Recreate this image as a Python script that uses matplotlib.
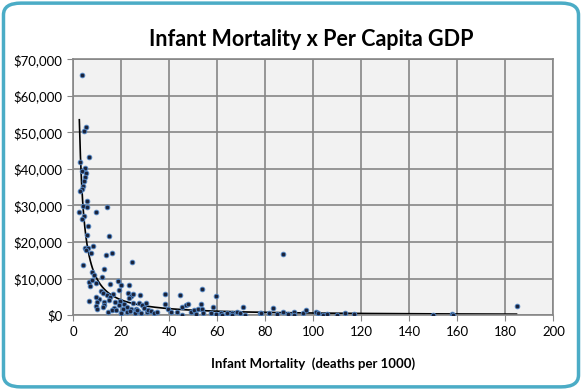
import numpy as np
import matplotlib
matplotlib.use("Agg")
import matplotlib.pyplot as plt
from matplotlib.patches import FancyBboxPatch
from matplotlib.ticker import FuncFormatter

plt.rcParams['font.family'] = ['Lato', 'DejaVu Sans']

# infant mortality (deaths per 1000) and per capita GDP
mortality = [
    3.8, 5.4, 4.5, 6.7, 2.9, 5.0, 3.6, 5.2, 4.7, 4.5, 4.2, 3.6, 2.9, 5.8,
    4.2, 5.8, 13.9, 9.6, 2.5, 4.6, 3.5, 6.0, 5.6, 15.0,
    4.9, 6.3, 8.1, 7.3, 5.3, 13.5, 16.3, 24.6, 4.2,
    7.9, 8.5, 12.9, 12.1, 6.5, 7.8, 9.5, 7.0, 15.2, 18.5, 19.8, 23.3,
    11.5, 12.4, 14.0, 16.7, 15.4, 19.2, 22.8, 24.0, 25.0, 27.8, 23.1, 10.6,
    6.5, 9.7, 12.7, 14.9, 17.2, 19.5, 21.0, 12.9, 9.6, 18.9, 24.9, 27.5,
    28.6, 22.3, 17.0, 14.3, 9.7, 15.9, 17.8, 20.8, 19.8, 24.0, 26.1, 27.1,
    29.5, 30.8, 22.5, 25.7, 28.1, 9.6, 12.5, 20.0, 23.6, 26.7,
    30.2, 31.0, 32.3, 33.7, 35.0, 38.3, 38.3, 39.3, 40.7, 43.2, 44.3, 45.4,
    45.4, 47.0, 47.6, 49.1, 50.4, 51.1, 52.1, 53.2, 53.8, 53.8, 54.2, 57.4,
    58.3, 59.5, 59.5, 61.5, 61.8, 63.9, 66.0, 66.0, 68.1, 69.5, 70.8, 71.5,
    77.8, 78.1, 81.5, 83.3, 84.7, 87.5, 87.5, 89.6, 92.0, 92.0, 95.8, 96.8,
    101.0, 102.1, 103.9, 105.8, 110.0, 113.2, 117.1, 150.0, 157.8, 158.3, 184.6,
]
gdp = [
    65600, 51400, 50500, 43300, 41800, 40200, 39500, 38800, 37700, 36700, 35400, 34500, 34000, 31200,
    29900, 29500, 29500, 28300, 28100, 27100, 26200, 24300, 21900, 21700,
    18300, 18500, 18800, 17100, 17700, 16400, 17100, 14600, 13600,
    11800, 11000, 12700, 10400, 9100, 9700, 8700, 8100, 8500, 9200, 8200, 8200,
    6700, 6000, 5500, 5700, 4900, 6900, 6000, 5300, 5700, 5500, 4800, 4500,
    3800, 3600, 3600, 4100, 3700, 3900, 3100, 2700, 2400, 2700, 3400, 3300,
    2700, 2300, 1900, 900, 1600, 1400, 1400, 1600, 700, 1600, 1700, 1100,
    1900, 950, 900, 700, 500, 4900, 2100, 600, 1100, 1500,
    3300, 1400, 1100, 700, 950, 5800, 3000, 1600, 950, 900, 5400, 2200,
    100, 2900, 3100, 900, 1400, 300, 1700, 3000, 7100, 1700, 700, 500,
    2200, 5300, 300, 700, 100, 500, 700, 100, 950, 700, 2200, 150,
    500, 700, 700, 1900, 300, 950, 16800, 300, 950, 100, 700, 1300,
    900, 700, 100, 300, 150, 700, 300, 100, 300, 150, 2400,
]

# power trendline y = a * x^b (as shown on the chart)
trend_a = 165000
trend_b = -1.23

fig = plt.figure(figsize=(5.82, 3.90), dpi=100)
fig.patch.set_facecolor('white')

# rounded teal frame around the chart
frame = FancyBboxPatch((0.006, 0.008), 0.988, 0.984,
                       boxstyle="round,pad=0,rounding_size=0.03",
                       transform=fig.transFigure, facecolor='none',
                       edgecolor='#4BACC6', linewidth=2.5)
fig.patches.append(frame)

ax = fig.add_axes([0.126, 0.192, 0.825, 0.656])
ax.set_facecolor('#F2F2F2')

tx = np.linspace(min(mortality), max(mortality), 400)
ax.plot(tx, trend_a * tx ** trend_b, color='black', linewidth=1.2, zorder=2)
ax.scatter(mortality, gdp, s=11, color='#1A2238', edgecolors='#4F81BD',
           linewidths=0.7, zorder=3)

ax.set_xlim(0, 200)
ax.set_ylim(0, 70000)
ax.set_xticks(np.arange(0, 201, 20))
ax.set_yticks(np.arange(0, 70001, 10000))
ax.yaxis.set_major_formatter(FuncFormatter(lambda v, p: '${:,.0f}'.format(v)))
ax.grid(True, color='#878787', linewidth=1.2)
ax.set_axisbelow(True)
for s in ax.spines.values():
    s.set_color('#878787')
    s.set_linewidth(1.2)
ax.tick_params(direction='out', length=4, color='#878787', labelsize=9.5,
               labelcolor='black', pad=4)

fig.text(0.535, 0.9, 'Infant Mortality x Per Capita GDP', ha='center', va='center',
         fontsize=15.5, fontweight='bold')
ax.set_xlabel('Infant Mortality  (deaths per 1000)', fontsize=9.5, fontweight='bold',
              labelpad=14)

fig.savefig('out.png', dpi=100)
